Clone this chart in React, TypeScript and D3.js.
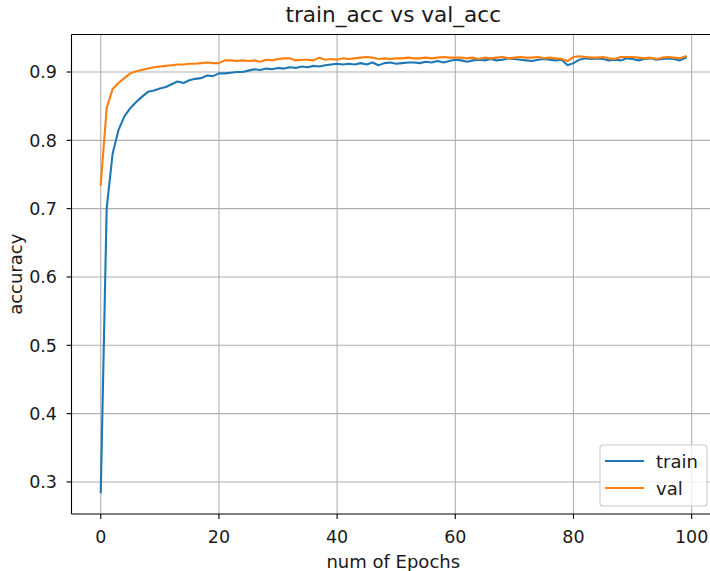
import React from 'react'
import * as d3 from 'd3'

// accuracy per epoch
const epochs = d3.range(0, 100)

const trainAcc = [
  0.285, 0.700, 0.780, 0.815, 0.835, 0.847, 0.856, 0.864, 0.871, 0.873,
  0.876, 0.878, 0.882, 0.886, 0.884, 0.888, 0.890, 0.891, 0.895, 0.894,
  0.898, 0.898, 0.899, 0.900, 0.900, 0.902, 0.904, 0.903, 0.905, 0.904,
  0.906, 0.905, 0.907, 0.906, 0.908, 0.907, 0.909, 0.908, 0.910, 0.911,
  0.912, 0.911, 0.912, 0.911, 0.913, 0.911, 0.914, 0.910, 0.913, 0.914,
  0.912, 0.913, 0.914, 0.914, 0.913, 0.915, 0.914, 0.916, 0.914, 0.916,
  0.918, 0.917, 0.915, 0.917, 0.918, 0.917, 0.919, 0.917, 0.918, 0.920,
  0.919, 0.918, 0.917, 0.916, 0.918, 0.919, 0.918, 0.917, 0.918, 0.910,
  0.913, 0.918, 0.920, 0.919, 0.920, 0.919, 0.917, 0.918, 0.917, 0.920,
  0.919, 0.917, 0.919, 0.920, 0.918, 0.919, 0.920, 0.919, 0.917, 0.921,
]

const valAcc = [
  0.735, 0.847, 0.875, 0.884, 0.891, 0.898, 0.901, 0.903, 0.905, 0.907,
  0.908, 0.909, 0.910, 0.911, 0.911, 0.912, 0.912, 0.913, 0.914, 0.913,
  0.913, 0.917, 0.917, 0.916, 0.917, 0.916, 0.917, 0.915, 0.918, 0.917,
  0.919, 0.920, 0.920, 0.917, 0.918, 0.918, 0.917, 0.921, 0.918, 0.919,
  0.918, 0.920, 0.919, 0.920, 0.921, 0.922, 0.921, 0.919, 0.920, 0.919,
  0.920, 0.920, 0.921, 0.920, 0.920, 0.921, 0.920, 0.921, 0.922, 0.921,
  0.921, 0.921, 0.920, 0.921, 0.919, 0.921, 0.920, 0.921, 0.922, 0.920,
  0.921, 0.922, 0.921, 0.921, 0.922, 0.920, 0.921, 0.920, 0.919, 0.916,
  0.922, 0.923, 0.922, 0.921, 0.921, 0.922, 0.920, 0.919, 0.922, 0.922,
  0.922, 0.921, 0.920, 0.921, 0.919, 0.921, 0.922, 0.921, 0.920, 0.923,
]

const xTicks = [0, 20, 40, 60, 80, 100]
const yTicks = [0.3, 0.4, 0.5, 0.6, 0.7, 0.8, 0.9]

const series = [
  { name: 'train', values: trainAcc, color: '#1f77b4' },
  { name: 'val', values: valAcc, color: '#ff7f0e' },
]

const W = 710
const H = 571
const left = 71.5
const right = 715
const top = 34.5
const bottom = 514
const font = "'DejaVu Sans', sans-serif"
const tickSize = 17.5
const labelSize = 18
const ink = '#1a1a1a'

export default function App() {
  const x = d3.scaleLinear().domain([-4.95, 103.95]).range([left, right])
  const y = d3.scaleLinear().domain([0.2531, 0.9549]).range([bottom, top])

  const line = d3.line<number>()
    .x((d, i) => x(epochs[i]))
    .y(d => y(d))

  // half the digit height, to centre tick labels on the ticks
  const digitHalf = tickSize * 0.729 / 2

  return (
    <svg width={W} height={H} style={{ position: 'absolute', left: 0, top: 0, background: 'white' }}
      fontFamily={font}>
      <rect x={0} y={0} width={W} height={H} fill="white" />
      <defs>
        <clipPath id="plot">
          <rect x={left} y={top} width={right - left} height={bottom - top} />
        </clipPath>
      </defs>

      {/* grid */}
      <g stroke="#b0b0b0" strokeWidth={1.1}>
        {xTicks.map(t => (
          <line key={'gx' + t} x1={x(t)} x2={x(t)} y1={top} y2={bottom} />
        ))}
        {yTicks.map(t => (
          <line key={'gy' + t} x1={left} x2={right} y1={y(t)} y2={y(t)} />
        ))}
      </g>

      {/* lines */}
      <g clipPath="url(#plot)" fill="none" strokeWidth={2.1} strokeLinejoin="round" strokeLinecap="square">
        {series.map(s => (
          <path key={s.name} d={line(s.values) || ''} stroke={s.color} />
        ))}
      </g>

      {/* spines */}
      <g stroke="black" strokeWidth={1.1} fill="none">
        <line x1={left} x2={left} y1={top} y2={bottom} />
        <line x1={left} x2={right} y1={bottom} y2={bottom} />
        <line x1={left} x2={right} y1={top} y2={top} />
        <line x1={right} x2={right} y1={top} y2={bottom} />
      </g>

      {/* x axis */}
      <g fontSize={tickSize} fill={ink}>
        {xTicks.map(t => (
          <g key={'xt' + t}>
            <line x1={x(t)} x2={x(t)} y1={bottom} y2={bottom + 4.9} stroke="black" strokeWidth={1.1} />
            <text x={x(t)} y={543} textAnchor="middle">{t}</text>
          </g>
        ))}
      </g>

      {/* y axis */}
      <g fontSize={tickSize} fill={ink}>
        {yTicks.map(t => (
          <g key={'yt' + t}>
            <line x1={left - 4.9} x2={left} y1={y(t)} y2={y(t)} stroke="black" strokeWidth={1.1} />
            <text x={57} y={y(t) + digitHalf} textAnchor="end">{d3.format('.1f')(t)}</text>
          </g>
        ))}
      </g>

      <text x={(left + right) / 2} y={568} fontSize={labelSize} textAnchor="middle" fill={ink}>
        num of Epochs
      </text>
      <text transform={`translate(15, ${(top + bottom) / 2}) rotate(-90)`} fontSize={labelSize} textAnchor="middle"
        dominantBaseline="central" fill={ink}>
        accuracy
      </text>
      <text x={(left + right) / 2} y={22} fontSize={21.6} textAnchor="middle" fill={ink}>
        train_acc vs val_acc
      </text>

      {/* legend */}
      <g>
        <rect x={600} y={445} width={107} height={61} rx={3} fill="white" fillOpacity={0.8}
          stroke="#cccccc" strokeWidth={1.1} />
        {series.map((s, i) => (
          <g key={'lg' + s.name}>
            <line x1={605} x2={644} y1={461 + i * 27} y2={461 + i * 27} stroke={s.color} strokeWidth={2.1} />
            <text x={656} y={461 + i * 27} fontSize={labelSize} dominantBaseline="central" fill={ink}>{s.name}</text>
          </g>
        ))}
      </g>
    </svg>
  )
}
